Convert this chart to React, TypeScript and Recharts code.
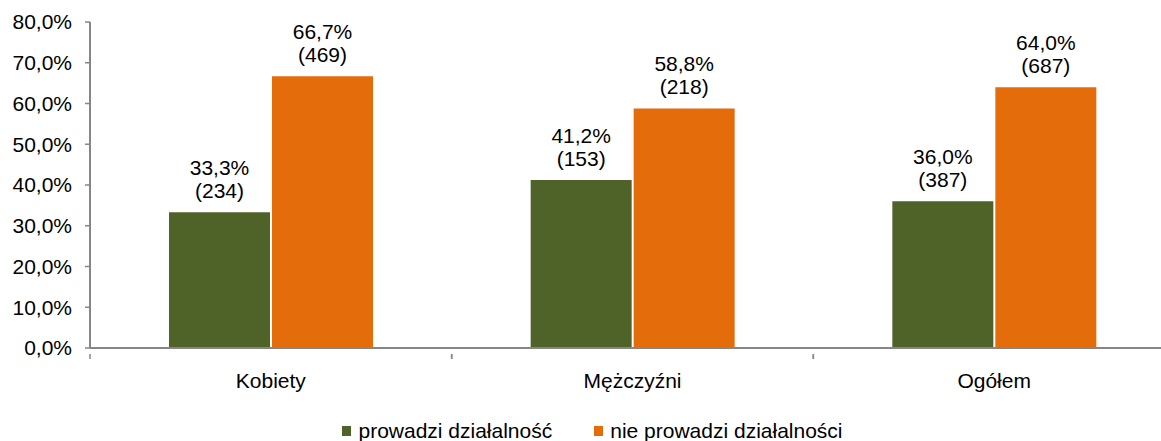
import React from 'react';
import { BarChart, Bar, XAxis, YAxis, Legend, LabelList } from 'recharts';

const categories = ['Kobiety', 'Mężczyźni', 'Ogółem'];
const prowadziPct = [33.3, 41.2, 36.0];
const prowadziCount = [234, 153, 387];
const nieProwadziPct = [66.7, 58.8, 64.0];
const nieProwadziCount = [469, 218, 687];
const yTicks = [0, 10, 20, 30, 40, 50, 60, 70, 80];

const seriesNames = ['prowadzi działalność', 'nie prowadzi działalności'];
const GREEN = '#4F6228';
const ORANGE = '#E46C0A';
const AXIS = '#868686';
const FONT = '"Liberation Sans", Arial, sans-serif';

const data = categories.map((c, i) => ({
  name: c,
  a: prowadziPct[i],
  aCount: prowadziCount[i],
  b: nieProwadziPct[i],
  bCount: nieProwadziCount[i],
}));

const fmt = (v: number) => `${v.toFixed(1).replace('.', ',')}%`;

const CHART_W = 1180;
const MARGIN = { top: 22, right: 5, left: 0, bottom: 0 };
const Y_W = 90;
const BAND = (CHART_W - MARGIN.right - MARGIN.left - Y_W) / categories.length;

const makeLabel = (counts: number[]) => (props: any) => {
  const { x, y, width, value, index } = props;
  const cx = x + width / 2;
  return (
    <text x={cx} y={y - 37} textAnchor="middle" fontSize={21} fontFamily={FONT} fill="#000">
      <tspan x={cx} dy={0}>{fmt(value)}</tspan>
      <tspan x={cx} dy={23}>({counts[index]})</tspan>
    </text>
  );
};

const XTick = (props: any) => {
  const { x, y, payload } = props;
  const left = x - BAND / 2;
  const right = x + BAND / 2;
  const axisY = y - 8;
  return (
    <g>
      <line x1={left} y1={axisY} x2={left} y2={axisY + 5} stroke={AXIS} strokeWidth={1.5} />
      <line x1={right} y1={axisY} x2={right} y2={axisY + 5} stroke={AXIS} strokeWidth={1.5} />
      <text x={x} y={axisY + 34} textAnchor="middle" fontSize={21} fontFamily={FONT} fill="#000">
        {payload.value}
      </text>
    </g>
  );
};

const LegendContent = () => (
  <div
    style={{
      height: 26,
      display: 'flex',
      justifyContent: 'center',
      alignItems: 'center',
      fontFamily: FONT,
      fontSize: 21,
      color: '#000',
      gap: 42,
      transform: 'translate(5px, 3px)',
    }}
  >
    {[GREEN, ORANGE].map((c, i) => (
      <div key={i} style={{ display: 'flex', alignItems: 'center' }}>
        <span style={{ display: 'inline-block', width: 9, height: 10, background: c, marginRight: 7 }} />
        <span>{seriesNames[i]}</span>
      </div>
    ))}
  </div>
);

export default function App() {
  return (
    <div style={{ position: 'absolute', left: 0, top: 0, width: 1161, height: 441, overflow: 'hidden', background: '#fff' }}>
      <BarChart
        width={CHART_W}
        height={441}
        data={data}
        margin={MARGIN}
        barGap={2}
        barSize={101}
      >
        <XAxis
          dataKey="name"
          height={67}
          axisLine={{ stroke: AXIS, strokeWidth: 2 }}
          tickLine={false}
          tick={<XTick />}
          tickMargin={8}
          interval={0}
        />
        <YAxis
          width={Y_W}
          domain={[0, 80]}
          ticks={yTicks}
          tickFormatter={fmt}
          axisLine={{ stroke: AXIS, strokeWidth: 2 }}
          tickLine={{ stroke: AXIS, strokeWidth: 1.5 }}
          tickSize={5}
          tickMargin={13}
          tick={{ fill: '#000', fontSize: 21, fontFamily: FONT }}
          interval={0}
        />
        <Legend verticalAlign="bottom" content={<LegendContent />} />
        <Bar dataKey="a" fill={GREEN} isAnimationActive={false}>
          <LabelList dataKey="a" content={makeLabel(prowadziCount)} />
        </Bar>
        <Bar dataKey="b" fill={ORANGE} isAnimationActive={false}>
          <LabelList dataKey="b" content={makeLabel(nieProwadziCount)} />
        </Bar>
      </BarChart>
    </div>
  );
}
